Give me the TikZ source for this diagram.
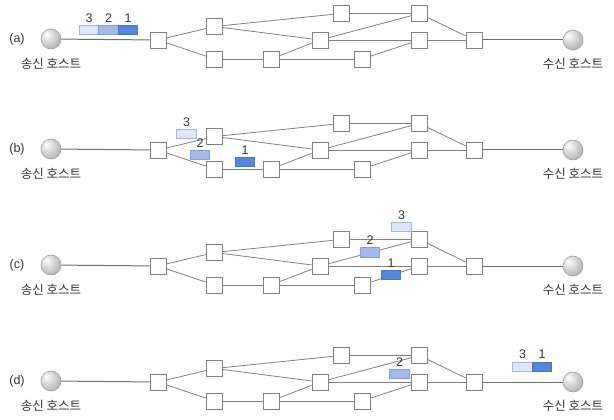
\documentclass[tikz,border=0pt]{standalone}
\usepackage{fontspec}
\setmainfont{Liberation Sans}
\newfontfamily\kr{Noto Sans CJK KR}
\usetikzlibrary{shadings}
\definecolor{lnk}{HTML}{808080}
\definecolor{hostln}{HTML}{6E6E6E}
\definecolor{pkL}{HTML}{E0E6F7}
\definecolor{pkLd}{HTML}{9DB5EA}
\definecolor{pkM}{HTML}{A4B8EC}
\definecolor{pkMd}{HTML}{7F9FE2}
\definecolor{pkD}{HTML}{5787D8}
\definecolor{pkDd}{HTML}{4677CC}
\definecolor{txt}{HTML}{333333}
\pgfdeclareradialshading{hostball}{\pgfpoint{-12bp}{12bp}}{color(0bp)=(white); color(8bp)=(white!92!black); color(30bp)=(white!72!black); color(50bp)=(white!58!black); color(70bp)=(white!50!black)}
\tikzset{
  router/.style={draw=lnk, fill=white, line width=0.8pt, minimum width=16pt, minimum height=16pt, inner sep=0pt},
  host/.style={circle, draw=gray!75, line width=0.6pt, shading=hostball, minimum size=20pt, inner sep=0pt},
  link/.style={draw=lnk, line width=0.8pt},
  hostlink/.style={draw=hostln, line width=1pt},
  pkt/.style={minimum width=19.5pt, minimum height=9.5pt, inner sep=0pt, line width=0.6pt,
     label={[font=\fontsize{12.5}{13}\selectfont, text=txt, inner sep=2.5pt]above:#1}},
  pk3/.style={pkt=3, fill=pkL, draw=pkLd},
  pk2/.style={pkt=2, fill=pkM, draw=pkMd},
  pk1/.style={pkt=1, fill=pkD, draw=pkDd},
  hlabel/.style={font=\kr\fontsize{12.5}{13}\selectfont, text=txt, inner sep=0pt},
  plabel/.style={font=\fontsize{12.5}{13}\selectfont, text=txt, inner sep=0pt}
}
\begin{document}
\begin{tikzpicture}[x=1pt,y=-1pt]
\useasboundingbox (0,0) rectangle (614,420);
\foreach \p/\dy in {a/0,b/110,c/226,d/342}{
  \node[plabel] (\p lab) at (17,39+\dy) {(\p)};
  \node[host] (\p S) at (51,39+\dy) {};
  \node[host] (\p R) at (573,40+\dy) {};
  \node[hlabel] (\p Sl) at (51,64+\dy) {송신 호스트};
  \node[hlabel] (\p Rl) at (573,64+\dy) {수신 호스트};
  \node[router] (\p A) at (158,40+\dy) {};
  \node[router] (\p B) at (214.5,26.5+\dy) {};
  \node[router] (\p C) at (214.5,59+\dy) {};
  \node[router] (\p D) at (271,59+\dy) {};
  \node[router] (\p E) at (341,13.5+\dy) {};
  \node[router] (\p F) at (320,40+\dy) {};
  \node[router] (\p G) at (362,59+\dy) {};
  \node[router] (\p H) at (419.5,13.5+\dy) {};
  \node[router] (\p I) at (419.5,40+\dy) {};
  \node[router] (\p J) at (474,40+\dy) {};
  \draw[hostlink] (\p S) -- (\p A);
  \draw[hostlink] (\p J) -- (\p R);
  \draw[link] (\p A) -- (\p B);
  \draw[link] (\p A) -- (\p C);
  \draw[link] (\p B) -- (\p E);
  \draw[link] (\p B) -- (\p F);
  \draw[link] (\p C) -- (\p D);
  \draw[link] (\p D) -- (\p F);
  \draw[link] (\p D) -- (\p G);
  \draw[link] (\p E) -- (\p H);
  \draw[link] (\p F) -- (\p H);
  \draw[link] (\p F) -- (\p I);
  \draw[link] (\p G) -- (\p I);
  \draw[link] (\p H) -- (\p J);
  \draw[link] (\p I) -- (\p J);
}
% (a)
\node[pk3] (pa3) at (89,30) {};
\node[pk2] (pa2) at (108.5,30) {};
\node[pk1] (pa1) at (128,30) {};
% (b)
\node[pk3] (pb3) at (186.5,134) {};
\node[pk2] (pb2) at (200,155) {};
\node[pk1] (pb1) at (245,162) {};
% (c)
\node[pk3] (pc3) at (401.5,227) {};
\node[pk2] (pc2) at (370,252.5) {};
\node[pk1] (pc1) at (391,275) {};
% (d)
\node[pk2] (pd2) at (399.5,374) {};
\node[pk3] (pd3) at (522.5,366.7) {};
\node[pk1] (pd1) at (542,366.7) {};
\end{tikzpicture}
\end{document}
